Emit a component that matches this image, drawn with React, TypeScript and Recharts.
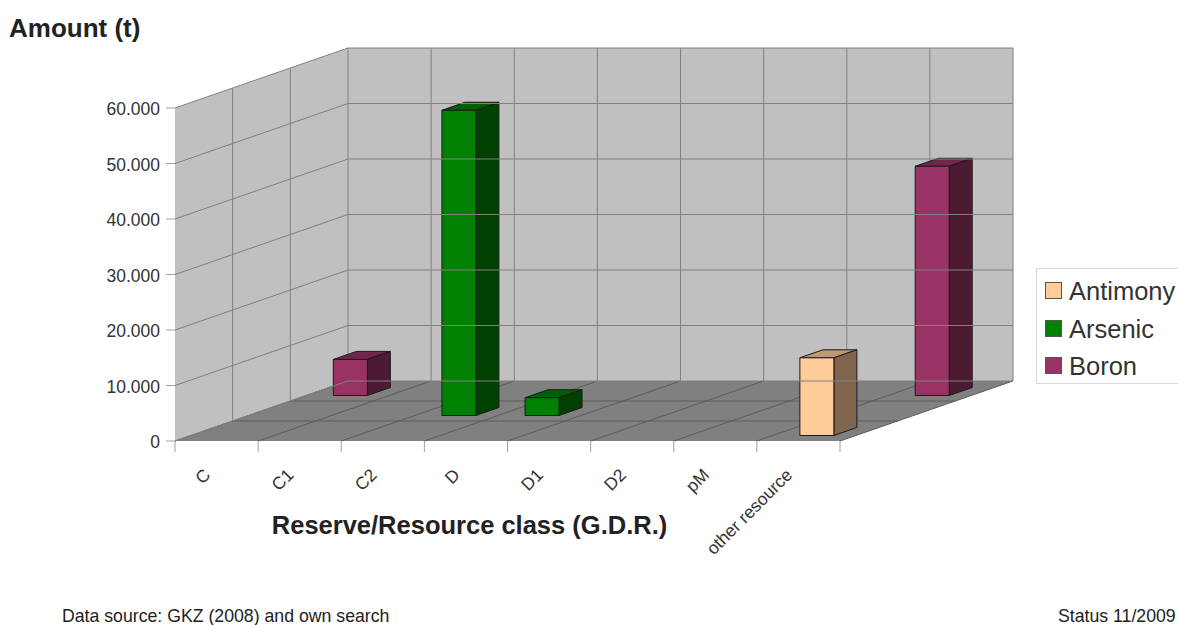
import React from "react";
import {
  BarChart,
  Bar,
  XAxis,
  YAxis,
  Legend,
  Label,
  ReferenceArea,
  ReferenceLine,
} from "recharts";

const categories = ["C", "C1", "C2", "D", "D1", "D2", "pM", "other resource"];
const antimony = [null, null, null, null, null, null, null, 14000];
const arsenic = [null, null, 55000, 3200, null, null, null, null];
const boron = [6500, null, null, null, null, null, null, 41300];
const yTicks = [0, 10000, 20000, 30000, 40000, 50000, 60000];

const data = categories.map((name, i) => ({
  name,
  antimony: antimony[i],
  arsenic: arsenic[i],
  boron: boron[i],
}));

const legendItems = [
  { name: "Antimony", color: "#ffcc99" },
  { name: "Arsenic", color: "#008000" },
  { name: "Boron", color: "#993366" },
];

const FONT = "'Liberation Sans', Arial, sans-serif";
const DEPTH_X = 173;
const DEPTH_Y = 60;
const SLOTS = 3;
const GRID = "#808080";

// walls and floor of the box, built from the plot rectangle
function Room(props: any) {
  const { x, y, width, height } = props;
  const bottom = y + height;
  const band = width / categories.length;
  const backX = x + DEPTH_X;
  const backBottom = bottom - DEPTH_Y;
  const slotX = DEPTH_X / SLOTS;
  const slotY = DEPTH_Y / SLOTS;
  const lines = [];
  for (let i = 0; i <= categories.length; i++) {
    const fx = x + band * i;
    lines.push(
      <line key={"f" + i} x1={fx} y1={bottom} x2={fx + DEPTH_X} y2={backBottom} stroke="#5c5c5c" />,
      <line key={"b" + i} x1={fx + DEPTH_X} y1={backBottom} x2={fx + DEPTH_X} y2={y - DEPTH_Y} stroke={GRID} />,
      <line key={"t" + i} x1={fx} y1={bottom} x2={fx} y2={bottom + 11} stroke="#a0a0a0" />,
    );
  }
  for (let s = 1; s < SLOTS; s++) {
    const sx = x + slotX * s;
    const sy = slotY * s;
    lines.push(
      <line key={"w" + s} x1={sx} y1={y - sy} x2={sx} y2={bottom - sy} stroke={GRID} />,
      <line key={"g" + s} x1={sx} y1={bottom - sy} x2={sx + width} y2={bottom - sy} stroke="#5c5c5c" />,
    );
  }
  return (
    <g>
      <polygon
        points={`${x},${y} ${backX},${y - DEPTH_Y} ${backX},${backBottom} ${x},${bottom}`}
        fill="#c0c0c0"
      />
      <polygon
        points={`${backX},${y - DEPTH_Y} ${backX + width},${y - DEPTH_Y} ${backX + width},${backBottom} ${backX},${backBottom}`}
        fill="#c0c0c0"
      />
      <polygon
        points={`${x},${bottom} ${backX},${backBottom} ${backX + width},${backBottom} ${x + width},${bottom}`}
        fill="#808080"
      />
      {lines}
    </g>
  );
}

// value lines running along the side wall and across the back wall
function WallLine(props: any) {
  const { x1, x2, y1 } = props;
  return (
    <polyline
      points={`${x1},${y1} ${x1 + DEPTH_X},${y1 - DEPTH_Y} ${x2 + DEPTH_X},${y1 - DEPTH_Y}`}
      fill="none"
      stroke={GRID}
    />
  );
}

function Box(props: any) {
  const { x, y, width, height, slot, front, side, top } = props;
  if (height == null || !width) return null;
  const ox = 18 + (DEPTH_X / SLOTS) * slot;
  const oy = 5.5 + (DEPTH_Y / SLOTS) * slot;
  const l = x + ox;
  const r = l + width;
  const t = y - oy;
  const b = t + height;
  const dx = 23;
  const dy = 8;
  const edge = "#1a1a1a";
  return (
    <g stroke={edge} strokeWidth={1} strokeLinejoin="round">
      <polygon points={`${l},${t} ${r},${t} ${r + dx},${t - dy} ${l + dx},${t - dy}`} fill={top} />
      <polygon points={`${r},${t} ${r + dx},${t - dy} ${r + dx},${b - dy} ${r},${b}`} fill={side} />
      <rect x={l} y={t} width={width} height={height} fill={front} />
    </g>
  );
}

function CategoryTick(props: any) {
  const { x, y, payload } = props;
  return (
    <text
      transform={`translate(${x - 5},${y + 27}) rotate(-45)`}
      textAnchor="end"
      fontFamily={FONT}
      fontSize={17.5}
      fill="#333"
    >
      {payload.value}
    </text>
  );
}

function LegendBox() {
  return (
    <div
      style={{
        boxSizing: "border-box",
        width: 143,
        height: 116,
        border: "1px solid #d8d8d8",
        background: "#fff",
        paddingTop: 3,
        fontFamily: FONT,
        fontSize: 25.5,
        color: "#333",
      }}
    >
      {legendItems.map((item) => (
        <div key={item.name} style={{ display: "flex", alignItems: "center", height: 37.5, paddingLeft: 8 }}>
          <span
            style={{
              boxSizing: "border-box",
              width: 17,
              height: 17,
              marginRight: 7,
              background: item.color,
              border: "1px solid #555",
            }}
          />
          <span style={{ position: "relative", top: 1 }}>{item.name}</span>
        </div>
      ))}
    </div>
  );
}

const textStyle: React.CSSProperties = {
  position: "absolute",
  fontFamily: FONT,
  color: "#222",
  whiteSpace: "nowrap",
};

export default function App() {
  return (
    <div style={{ position: "absolute", left: 0, top: 0, width: 1178, height: 625, overflow: "hidden" }}>
      <div style={{ ...textStyle, left: 9, top: 13, fontSize: 26, fontWeight: "bold" }}>Amount (t)</div>
      <BarChart
        width={1178}
        height={625}
        data={data}
        barSize={34}
        barGap={-34}
        margin={{ top: 108, right: 338, bottom: 0, left: 0 }}
      >
        <ReferenceArea y1={0} y2={60000} shape={Room} />
        {yTicks.map((v) => (
          <ReferenceLine key={v} y={v} shape={WallLine} />
        ))}
        <XAxis
          dataKey="name"
          height={184}
          interval={0}
          axisLine={false}
          tickLine={false}
          tick={CategoryTick}
        >
          <Label
            value="Reserve/Resource class (G.D.R.)"
            position="insideTop"
            dx={-38}
            dy={70}
            style={{ fontFamily: FONT, fontSize: 25.5, fontWeight: "bold", fill: "#222" }}
          />
        </XAxis>
        <YAxis
          width={175}
          domain={[0, 60000]}
          ticks={yTicks}
          axisLine={false}
          tickSize={9}
          tickMargin={6}
          tickLine={{ stroke: "#a0a0a0" }}
          tickFormatter={(v: number) => (v === 0 ? "0" : `${v / 1000}.000`)}
          tick={{ fontFamily: FONT, fontSize: 17.5, fill: "#333", dy: 1 }}
        />
        <Bar
          dataKey="boron"
          isAnimationActive={false}
          shape={(p: any) => <Box {...p} slot={2} front="#993366" side="#4d1a33" top="#73264d" />}
        />
        <Bar
          dataKey="arsenic"
          isAnimationActive={false}
          shape={(p: any) => <Box {...p} slot={1} front="#008000" side="#004000" top="#006000" />}
        />
        <Bar
          dataKey="antimony"
          isAnimationActive={false}
          shape={(p: any) => <Box {...p} slot={0} front="#ffcc99" side="#806650" top="#bf9973" />}
        />
        <Legend
          layout="vertical"
          align="center"
          verticalAlign="middle"
          content={<LegendBox />}
          wrapperStyle={{ left: 1036, top: 268, width: 143 }}
        />
      </BarChart>
      <div style={{ ...textStyle, left: 62, top: 609, fontSize: 17.7, lineHeight: "15px" }}>
        Data source: GKZ (2008) and own search
      </div>
      <div style={{ ...textStyle, left: 1058, top: 609, fontSize: 17.7, lineHeight: "15px" }}>Status 11/2009</div>
    </div>
  );
}
